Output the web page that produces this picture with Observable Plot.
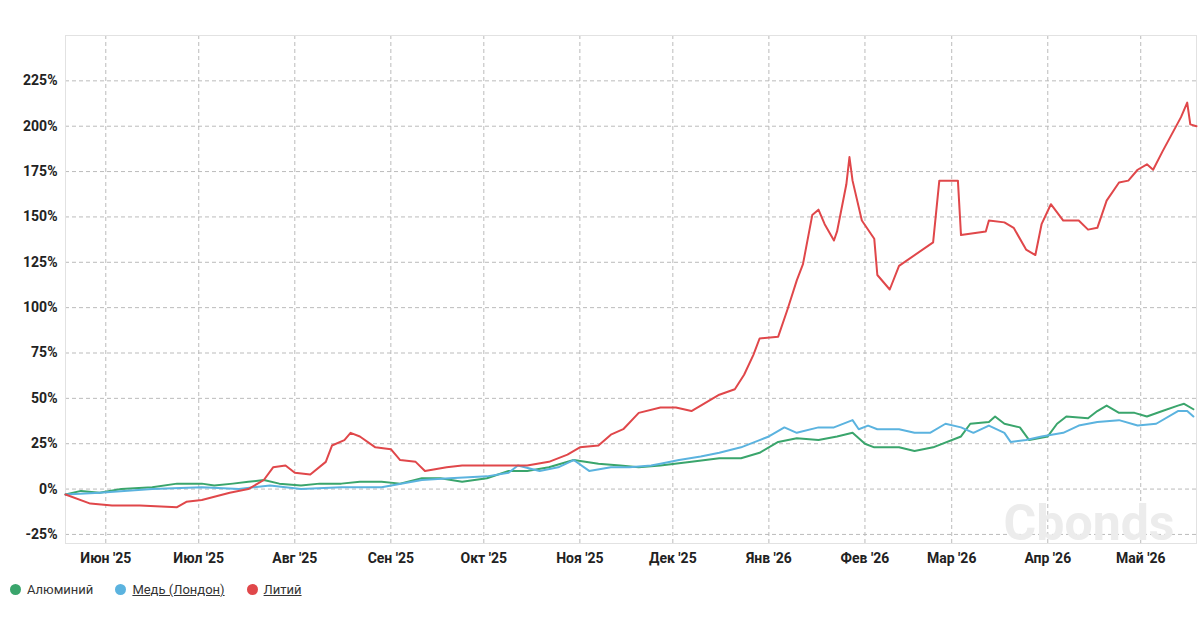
<!DOCTYPE html>
<html><head><meta charset="utf-8">
<script src="https://cdn.jsdelivr.net/npm/d3@7"></script>
<script src="https://cdn.jsdelivr.net/npm/@observablehq/plot@0.6"></script>
<style>
body{margin:0;background:#fff;font-family:Roboto,"Noto Sans",sans-serif;}
#legend{display:flex;gap:22px;margin:10px 0 0 10px;font-size:13px;color:#333;}
#legend span.i{display:inline-flex;align-items:center;gap:6px}
#legend i{width:11px;height:11px;border-radius:50%;display:inline-block}
</style></head><body>
<div id="chart"></div>
<div id="legend"></div>
<script>
const startDate = new Date(2025,4,19);
const seriesNames = ["Алюминий","Медь (Лондон)","Литий"];
const seriesColors = ["#3aa56c","#5bb3df","#e0474a"];
const underline = [false,true,true];
const yTicks = [-25,0,25,50,75,100,125,150,175,200,225];
const monthLabels = ["Июн '25","Июл '25","Авг '25","Сен '25","Окт '25","Ноя '25","Дек '25","Янв '26","Фев '26","Мар '26","Апр '26","Май '26"];

const liDays = [0,8,15,24,36,39,44,53,59,64,67,71,74,79,84,86,90,92,95,100,105,108,113,116,123,128,140,149,156,162,166,172,176,180,185,192,197,202,205,211,216,219,222,224,230,233,236,238,241,243,245,248,249,252,253,254,257,261,262,266,269,280,282,288,289,297,298,303,306,310,313,315,318,322,327,330,333,336,340,343,346,349,351,354,360,362,363,365];
const liVals = [-3,-8,-9,-9,-10,-7,-6,-2,0,5,12,13,9,8,15,24,27,31,29,23,22,16,15,10,12,13,13,13,15,19,23,24,30,33,42,45,45,43,46,52,55,63,74,83,84,99,115,124,151,154,146,137,142,168,183,170,148,138,118,110,123,136,170,170,140,142,148,147,144,132,129,146,157,148,148,143,144,159,169,170,176,179,176,186,205,213,201,200];

const alDays = [0,5,11,18,28,36,44,48,54,59,64,69,76,82,89,95,102,108,115,121,128,136,143,149,156,164,172,179,185,192,202,211,218,224,230,236,243,249,254,258,261,269,274,280,289,292,298,300,303,308,311,317,320,323,330,333,336,340,345,349,354,359,361,364];
const alVals = [-3,-1,-2,0,1,3,3,2,3,4,5,3,2,3,3,4,4,3,6,6,4,6,10,10,12,16,14,13,12,13,15,17,17,20,26,28,27,29,31,25,23,23,21,23,29,36,37,40,36,34,27,29,36,40,39,43,46,42,42,40,43,46,47,44];

const cuDays = [0,11,28,44,56,66,76,89,102,115,124,136,143,146,153,159,164,169,176,182,189,192,198,205,211,218,224,227,232,236,243,248,254,256,259,262,269,274,279,284,289,293,298,303,305,310,315,322,327,333,340,346,352,359,362,364];
const cuVals = [-3,-2,0,1,0,2,0,1,1,5,6,7,9,13,10,12,16,10,12,12,13,14,16,18,20,23,27,29,34,31,34,34,38,33,35,33,33,31,31,36,34,31,35,31,26,27,29,31,35,37,38,35,36,43,43,40];

const toRows = (days, vals, name) => days.map((d,i)=>({date:d3.timeDay.offset(startDate,d), v:vals[i], s:name}));
const data = [
  ...toRows(alDays, alVals, seriesNames[0]),
  ...toRows(cuDays, cuVals, seriesNames[1]),
  ...toRows(liDays, liVals, seriesNames[2])
];
const monthTicks = monthLabels.map((_,i)=>new Date(2025,5+i,1));
const endDate = d3.timeDay.offset(startDate,365);

const chart = Plot.plot({
  width:1204, height:572,
  marginLeft:65, marginRight:8, marginTop:35, marginBottom:29,
  style:{fontFamily:"Roboto, sans-serif", fontSize:"13px", color:"#222"},
  x:{type:"time", domain:[startDate,endDate], label:null},
  y:{domain:[-30,250], label:null},
  color:{domain:seriesNames, range:seriesColors},
  marks:[
    Plot.gridY(yTicks,{stroke:"#bbb", strokeOpacity:1, strokeDasharray:"4,3"}),
    Plot.gridX(monthTicks,{stroke:"#bbb", strokeOpacity:1, strokeDasharray:"4,3"}),
    Plot.frame({stroke:"#e2e2e2"}),
    Plot.text(["Cbonds"],{frameAnchor:"bottom-right", dx:-22, dy:-4, fontSize:50, fontWeight:"bold", fill:"#ececec"}),
    Plot.axisY({ticks:yTicks, tickFormat:d=>d+"%", tickSize:0, tickPadding:8, fontWeight:"bold", fontSize:14}),
    Plot.axisX({ticks:monthTicks, tickFormat:(d,i)=>monthLabels[i], tickSize:0, tickPadding:10, fontWeight:"bold", fontSize:14}),
    Plot.lineY(data,{x:"date", y:"v", stroke:"s", strokeWidth:2, curve:"linear"})
  ]
});
document.getElementById("chart").append(chart);
const lg = document.getElementById("legend");
seriesNames.forEach((n,i)=>{
  const s=document.createElement("span");s.className="i";
  s.innerHTML=`<i style="background:${seriesColors[i]}"></i><span style="${underline[i]?'text-decoration:underline':''}">${n}</span>`;
  lg.append(s);
});
</script>
</body></html>
